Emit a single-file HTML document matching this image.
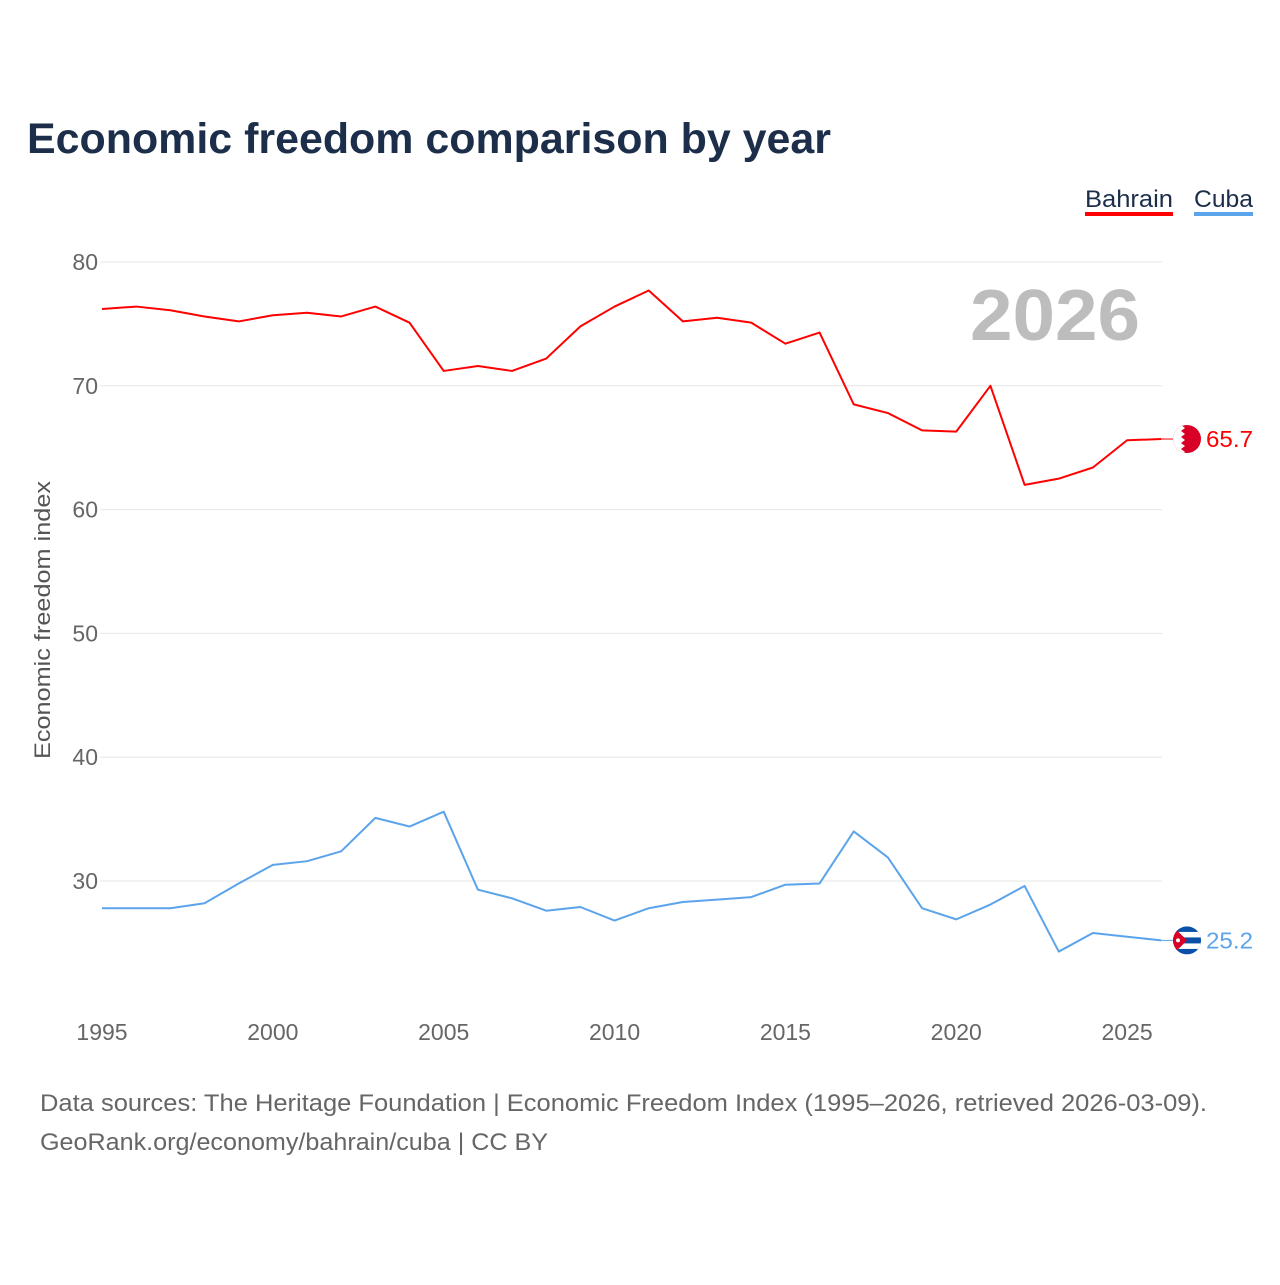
<!DOCTYPE html>
<html><head><meta charset="utf-8"><style>
body{margin:0;background:#fff;font-family:"Liberation Sans",sans-serif}
</style></head><body>
<svg id="chart" width="1280" height="1280" viewBox="0 0 1280 1280" xmlns="http://www.w3.org/2000/svg">
<rect width="1280" height="1280" fill="#fff"/>
<text x="27" y="153" font-size="43" font-weight="bold" fill="#1c2e4a" textLength="804" lengthAdjust="spacingAndGlyphs">Economic freedom comparison by year</text>
<g><text x="1085" y="207" font-size="24" fill="#1c2e4a" textLength="88" lengthAdjust="spacingAndGlyphs">Bahrain</text><rect x="1085" y="212" width="88" height="4" fill="#ff0000"/></g>
<g><text x="1194" y="207" font-size="24" fill="#1c2e4a" textLength="59" lengthAdjust="spacingAndGlyphs">Cuba</text><rect x="1194" y="212" width="59" height="4" fill="#5ba4ec"/></g>
<g id="grid"></g>
<text x="1055" y="340" font-size="72" font-weight="bold" fill="#bdbdbd" text-anchor="middle" textLength="170" lengthAdjust="spacingAndGlyphs">2026</text>
<text transform="translate(50,620) rotate(-90)" font-size="22" fill="#555" text-anchor="middle" textLength="278" lengthAdjust="spacingAndGlyphs">Economic freedom index</text>
<g id="series"></g>
<text x="40" y="1111" font-size="24" fill="#666" textLength="1167" lengthAdjust="spacingAndGlyphs">Data sources: The Heritage Foundation | Economic Freedom Index (1995–2026, retrieved 2026-03-09).</text>
<text x="40" y="1150" font-size="24" fill="#666" textLength="508" lengthAdjust="spacingAndGlyphs">GeoRank.org/economy/bahrain/cuba | CC BY</text>
</svg>
<script>
const years=[1995,1996,1997,1998,1999,2000,2001,2002,2003,2004,2005,2006,2007,2008,2009,2010,2011,2012,2013,2014,2015,2016,2017,2018,2019,2020,2021,2022,2023,2024,2025,2026];
const bahrain=[76.2,76.4,76.1,75.6,75.2,75.7,75.9,75.6,76.4,75.1,71.2,71.6,71.2,72.2,74.8,76.4,77.7,75.2,75.5,75.1,73.4,74.3,68.5,67.8,66.4,66.3,70.0,62.0,62.5,63.4,65.6,65.7];
const cuba=[27.8,27.8,27.8,28.2,29.8,31.3,31.6,32.4,35.1,34.4,35.6,29.3,28.6,27.6,27.9,26.8,27.8,28.3,28.5,28.7,29.7,29.8,34.0,31.9,27.8,26.9,28.1,29.6,24.3,25.8,25.5,25.2];
const yTicks=[30,40,50,60,70,80];
const xTicks=[1995,2000,2005,2010,2015,2020,2025];
const NS="http://www.w3.org/2000/svg";
const x=v=>102+(v-1995)*34.17;
const y=v=>262+(80-v)*12.38;
const grid=document.getElementById('grid'),ser=document.getElementById('series');
function mk(t,a,p){const e=document.createElementNS(NS,t);for(const k in a)e.setAttribute(k,a[k]);p.appendChild(e);return e;}
yTicks.forEach(t=>{
 const l=mk('line',{x1:100,x2:1162,y1:y(t),y2:y(t),stroke:'#e6e6e6','stroke-width':1},grid);
 
 
 const tx=mk('text',{x:98,y:y(t)+8,'font-size':23,fill:'#666','text-anchor':'end'},grid);tx.textContent=t;
 
 
});
xTicks.forEach(t=>{
 const tx=mk('text',{x:x(t),y:1040,'font-size':23,fill:'#666','text-anchor':'middle'},grid);tx.textContent=t;
 
 
});
const defs=mk('defs',{},document.getElementById('chart'));
function line(vals,col,name){
 const p=mk('polyline',{points:vals.map((v,i)=>x(years[i])+','+y(v)).join(' '),fill:'none',stroke:col,'stroke-width':2,'stroke-linejoin':'round'},ser);
 
 
 const last=vals[vals.length-1],ly=y(last);
 mk('line',{x1:x(2026),x2:1173,y1:ly,y2:ly,stroke:col,'stroke-width':1},ser);
 const cp=mk('clipPath',{id:'clip-'+name},defs);
 mk('circle',{cx:1187,cy:ly,r:14},cp);
 const g=mk('g',{'clip-path':'url(#clip-'+name+')'},ser);
 
 
 if(name==='bahrain'){
  mk('rect',{x:1173,y:ly-14,width:28,height:28,fill:'#d80027'},g);
  mk('path',{d:`M1173,${ly-14} h8 l4,3 l-4,3 l4,3 l-4,3 l4,3 l-4,3 l4,3 l-4,3 l4,3 l-4,3 h-8z`,fill:'#fff'},g);
 }else{
  mk('rect',{x:1173,y:ly-14,width:28,height:28,fill:'#0a4fa8'},g);
  mk('rect',{x:1173,y:ly-8.5,width:28,height:5.5,fill:'#fff'},g);
  mk('rect',{x:1173,y:ly+3,width:28,height:5.5,fill:'#fff'},g);
  mk('path',{d:`M1173,${ly-14} L1187,${ly} L1173,${ly+14}z`,fill:'#d80027'},g);
  mk('circle',{cx:1178,cy:ly,r:2,fill:'#fff'},g);
 }
 const t=mk('text',{x:1206,y:ly+8,'font-size':23,fill:col,textLength:47,lengthAdjust:'spacingAndGlyphs'},ser);t.textContent=last.toFixed(1);
 
 
}
line(bahrain,'#ff0000','bahrain');
line(cuba,'#5ba4ec','cuba');
</script>
</body></html>
